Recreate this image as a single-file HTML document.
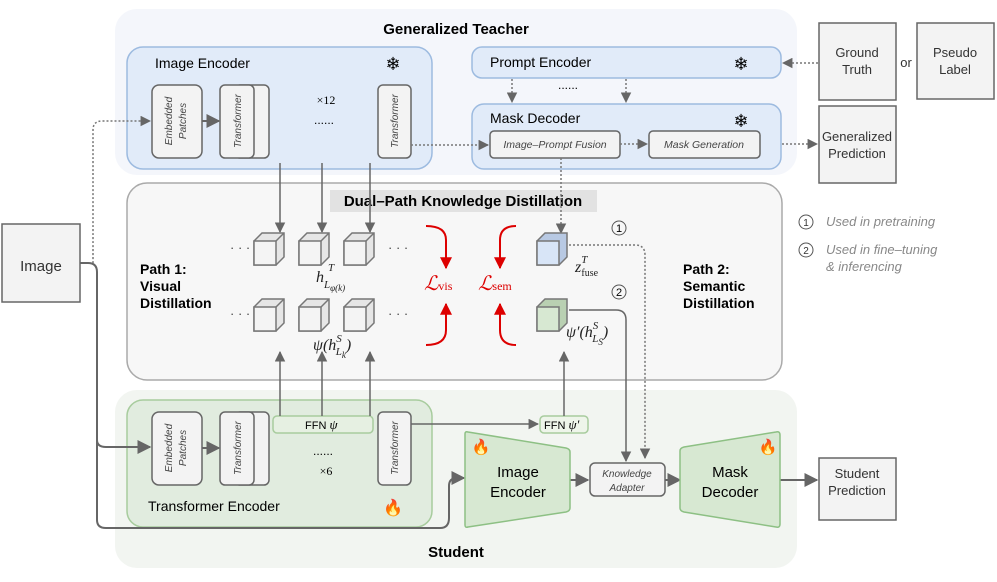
<!DOCTYPE html>
<html><head><meta charset="utf-8"><style>
body{margin:0;background:#fff}
svg{display:block;font-family:"Liberation Sans",sans-serif}
.it{font-style:italic}
</style></head><body>
<svg width="997" height="582" viewBox="0 0 997 582" xmlns="http://www.w3.org/2000/svg">
<defs>
<marker id="a" viewBox="0 0 10 10" refX="9" refY="5" markerWidth="7" markerHeight="7" orient="auto"><path d="M0,0L10,5L0,10z" fill="#666"/></marker>
<marker id="r" viewBox="0 0 10 10" refX="9" refY="5" markerWidth="6" markerHeight="6" orient="auto"><path d="M0,0L10,5L0,10z" fill="#d00"/></marker>
<g id="cube"><path d="M0,8 L8,0 L30,0 L30,24 L22,32 L0,32 Z" fill="#e6e6e6" stroke="#777" stroke-width="1.5"/><path d="M0,8 L22,8 L22,32 L0,32Z" fill="#f4f4f4" stroke="#777" stroke-width="1.5"/><path d="M22,8 L30,0" stroke="#777" stroke-width="1.5"/></g>
</defs>
<!-- backgrounds -->
<rect x="115" y="9" width="682" height="166" rx="22" fill="#f4f6fb"/>
<rect x="115" y="390" width="682" height="178" rx="22" fill="#f2f5f1"/>
<rect x="127" y="183" width="655" height="197" rx="20" fill="#f7f7f7" stroke="#aaa" stroke-width="1.5"/>
<rect x="330" y="190" width="267" height="22" fill="#e2e2e2"/>
<text x="463" y="206" font-size="15" font-weight="bold" text-anchor="middle">Dual–Path Knowledge Distillation</text>
<text x="456" y="34" font-size="15" font-weight="bold" text-anchor="middle">Generalized Teacher</text>
<text x="456" y="557" font-size="15" font-weight="bold" text-anchor="middle">Student</text>
<!-- teacher image encoder -->
<rect x="127" y="47" width="305" height="122" rx="16" fill="#e1ebf9" stroke="#9dbbe0" stroke-width="1.5"/>
<text x="155" y="68" font-size="14">Image Encoder</text>
<text x="393" y="70" font-size="18" text-anchor="middle">❄</text>
<rect x="152" y="85" width="50" height="73" rx="7" fill="#f3f3f3" stroke="#666" stroke-width="1.5"/>
<text transform="translate(172,121) rotate(-90)" font-size="10" class="it" text-anchor="middle" fill="#444">Embedded</text>
<text transform="translate(186,121) rotate(-90)" font-size="10" class="it" text-anchor="middle" fill="#444">Patches</text>
<rect x="235" y="85" width="34" height="73" rx="5" fill="#f3f3f3" stroke="#666" stroke-width="1.5"/>
<rect x="220" y="85" width="34" height="73" rx="5" fill="#f3f3f3" stroke="#666" stroke-width="1.5"/>
<text transform="translate(241,121) rotate(-90)" font-size="10" class="it" text-anchor="middle" fill="#444">Transformer</text>
<rect x="378" y="85" width="33" height="73" rx="5" fill="#f3f3f3" stroke="#666" stroke-width="1.5"/>
<text transform="translate(398,121) rotate(-90)" font-size="10" class="it" text-anchor="middle" fill="#444">Transformer</text>
<line x1="202" y1="121" x2="219" y2="121" stroke="#666" stroke-width="2" marker-end="url(#a)"/>
<text x="326" y="104" font-size="12" text-anchor="middle" font-family="Liberation Serif">×12</text>
<text x="324" y="124" font-size="12" text-anchor="middle">......</text>
<!-- prompt/mask -->
<rect x="472" y="47" width="309" height="31" rx="10" fill="#e1ebf9" stroke="#9dbbe0" stroke-width="1.5"/>
<text x="490" y="67" font-size="14">Prompt Encoder</text>
<text x="741" y="70" font-size="18" text-anchor="middle">❄</text>
<rect x="472" y="104" width="309" height="65" rx="12" fill="#e1ebf9" stroke="#9dbbe0" stroke-width="1.5"/>
<text x="490" y="123" font-size="14">Mask Decoder</text>
<text x="741" y="127" font-size="18" text-anchor="middle">❄</text>
<rect x="490" y="131" width="130" height="27" rx="4" fill="#f3f3f3" stroke="#666" stroke-width="1.5"/>
<text x="555" y="148" font-size="10.5" class="it" text-anchor="middle" fill="#444">Image–Prompt Fusion</text>
<rect x="649" y="131" width="111" height="27" rx="4" fill="#f3f3f3" stroke="#666" stroke-width="1.5"/>
<text x="704" y="148" font-size="10.5" class="it" text-anchor="middle" fill="#444">Mask Generation</text>
<g stroke="#777" stroke-width="1.5" stroke-dasharray="2,2" fill="none">
<line x1="512" y1="79" x2="512" y2="102" marker-end="url(#a)"/>
<line x1="626" y1="79" x2="626" y2="102" marker-end="url(#a)"/>
<line x1="620" y1="144" x2="647" y2="144" marker-end="url(#a)"/>
<line x1="782" y1="144" x2="817" y2="144" marker-end="url(#a)"/>
<line x1="818" y1="63" x2="783" y2="63" marker-end="url(#a)"/>
<line x1="411" y1="145" x2="488" y2="145" marker-end="url(#a)"/>
<path d="M93,263 Q93,260 93,130 Q93,121 102,121 L150,121" marker-end="url(#a)"/>
<line x1="561" y1="158" x2="561" y2="233" marker-end="url(#a)"/>
<path d="M569,245 L635,245 Q645,245 645,255 L645,458" marker-end="url(#a)"/>
</g>
<text x="568" y="89" font-size="12" text-anchor="middle">......</text>
<!-- right boxes -->
<g fill="#f3f3f3" stroke="#666" stroke-width="1.5">
<rect x="819" y="23" width="77" height="77"/><rect x="917" y="23" width="77" height="76"/>
<rect x="819" y="106" width="77" height="77"/><rect x="819" y="458" width="77" height="62"/>
<rect x="2" y="224" width="78" height="78"/></g>
<g font-size="13" text-anchor="middle" fill="#333">
<text x="857" y="57">Ground</text><text x="857" y="74">Truth</text>
<text x="906" y="67">or</text>
<text x="955" y="57">Pseudo</text><text x="955" y="74">Label</text>
<text x="857" y="141">Generalized</text><text x="857" y="158">Prediction</text>
<text x="857" y="478">Student</text><text x="857" y="495">Prediction</text>
<text x="41" y="271" font-size="15">Image</text></g>
<!-- legend -->
<g font-size="13" fill="#888" class="it"><circle cx="806" cy="222" r="7" fill="none" stroke="#555"/><text x="806" y="226" font-size="10" text-anchor="middle" fill="#333" font-style="normal">1</text>
<text x="826" y="226">Used in pretraining</text>
<circle cx="806" cy="250" r="7" fill="none" stroke="#555"/><text x="806" y="254" font-size="10" text-anchor="middle" fill="#333" font-style="normal">2</text>
<text x="826" y="254">Used in fine–tuning</text><text x="826" y="271">&amp; inferencing</text></g>
<!-- distillation content -->
<g font-size="14" font-weight="bold"><text x="140" y="274">Path 1:</text><text x="140" y="291">Visual</text><text x="140" y="308">Distillation</text>
<text x="683" y="274">Path 2:</text><text x="683" y="291">Semantic</text><text x="683" y="308">Distillation</text></g>
<g stroke="#666" stroke-width="1.5" fill="none">
<line x1="280" y1="163" x2="280" y2="232" marker-end="url(#a)"/>
<line x1="322" y1="163" x2="322" y2="232" marker-end="url(#a)"/>
<line x1="370" y1="163" x2="370" y2="232" marker-end="url(#a)"/>
</g>
<use href="#cube" x="254" y="233"/><use href="#cube" x="299" y="233"/><use href="#cube" x="344" y="233"/>
<use href="#cube" x="254" y="299"/><use href="#cube" x="299" y="299"/><use href="#cube" x="344" y="299"/>
<g font-size="13" fill="#444"><text x="230" y="252">· · ·</text><text x="388" y="252">· · ·</text><text x="230" y="318">· · ·</text><text x="388" y="318">· · ·</text></g>
<g transform="translate(537,233)"><path d="M0,8 L8,0 L30,0 L30,24 L22,32 L0,32 Z" fill="#b8c9e3" stroke="#777" stroke-width="1.5"/><path d="M0,8 L22,8 L22,32 L0,32Z" fill="#d8e5f7" stroke="#777" stroke-width="1.5"/></g>
<g transform="translate(537,299)"><path d="M0,8 L8,0 L30,0 L30,24 L22,32 L0,32 Z" fill="#b9d0b2" stroke="#777" stroke-width="1.5"/><path d="M0,8 L22,8 L22,32 L0,32Z" fill="#d7e8d2" stroke="#777" stroke-width="1.5"/></g>
<g font-family="Liberation Serif" font-style="italic" font-size="16" fill="#222">
<text x="316" y="282">h<tspan font-size="11" dy="6">L</tspan><tspan font-size="9" dy="3">φ(k)</tspan></text><text x="328" y="271" font-size="11">T</text>
<text x="313" y="350">ψ(h<tspan font-size="11" dy="-8">S</tspan><tspan font-size="11" dx="-6" dy="13">L</tspan><tspan font-size="9" dy="3">k</tspan><tspan font-size="16" dy="-8">)</tspan></text>
<text x="575" y="272">z<tspan font-size="11" dy="-9">T</tspan><tspan font-size="10" dx="-6" dy="13" font-style="normal">fuse</tspan></text>
<text x="566" y="337">ψ′(h<tspan font-size="11" dy="-8">S</tspan><tspan font-size="11" dx="-6" dy="13">L</tspan><tspan font-size="9" dy="3">S</tspan><tspan font-size="16" dy="-8">)</tspan></text>
</g>
<g font-size="11" text-anchor="middle"><circle cx="619" cy="228" r="7" fill="none" stroke="#555"/><text x="619" y="232">1</text><circle cx="619" cy="292" r="7" fill="none" stroke="#555"/><text x="619" y="296">2</text></g>
<g font-family="Liberation Serif" font-style="italic" font-size="20" fill="#d00"><text x="424" y="290">ℒ<tspan font-size="12" font-style="normal">vis</tspan></text><text x="478" y="290">ℒ<tspan font-size="12" font-style="normal">sem</tspan></text></g>
<g stroke="#d00" stroke-width="2" fill="none">
<path d="M426,226 Q446,226 446,240 L446,268" marker-end="url(#r)"/>
<path d="M426,345 Q446,345 446,330 L446,304" marker-end="url(#r)"/>
<path d="M516,226 Q500,226 500,240 L500,268" marker-end="url(#r)"/>
<path d="M516,345 Q500,345 500,330 L500,304" marker-end="url(#r)"/>
</g>
<!-- student -->
<rect x="127" y="400" width="305" height="127" rx="16" fill="#e1ecdf" stroke="#a8cc9e" stroke-width="1.5"/>
<rect x="152" y="412" width="50" height="73" rx="7" fill="#f3f3f3" stroke="#666" stroke-width="1.5"/>
<text transform="translate(172,448) rotate(-90)" font-size="10" class="it" text-anchor="middle" fill="#444">Embedded</text>
<text transform="translate(186,448) rotate(-90)" font-size="10" class="it" text-anchor="middle" fill="#444">Patches</text>
<rect x="235" y="412" width="34" height="73" rx="5" fill="#f3f3f3" stroke="#666" stroke-width="1.5"/>
<rect x="220" y="412" width="34" height="73" rx="5" fill="#f3f3f3" stroke="#666" stroke-width="1.5"/>
<text transform="translate(241,448) rotate(-90)" font-size="10" class="it" text-anchor="middle" fill="#444">Transformer</text>
<rect x="378" y="412" width="33" height="73" rx="5" fill="#f3f3f3" stroke="#666" stroke-width="1.5"/>
<text transform="translate(398,448) rotate(-90)" font-size="10" class="it" text-anchor="middle" fill="#444">Transformer</text>
<line x1="202" y1="448" x2="219" y2="448" stroke="#666" stroke-width="2" marker-end="url(#a)"/>
<rect x="273" y="416" width="100" height="17" rx="4" fill="#e6f0e2" stroke="#a8cc9e" stroke-width="1.5"/>
<text x="305" y="429" font-size="11">FFN <tspan font-family="Liberation Serif" font-style="italic" font-size="13">ψ</tspan></text>
<text x="323" y="455" font-size="12" text-anchor="middle">......</text>
<text x="326" y="475" font-size="12" text-anchor="middle" font-family="Liberation Serif">×6</text>
<text x="148" y="511" font-size="14">Transformer Encoder</text>
<text x="393" y="513" font-size="16" text-anchor="middle">🔥</text>
<rect x="540" y="416" width="48" height="17" rx="4" fill="#eef5ea" stroke="#a8cc9e" stroke-width="1.5"/>
<text x="544" y="429" font-size="11">FFN <tspan font-family="Liberation Serif" font-style="italic" font-size="13">ψ′</tspan></text>
<g stroke="#666" stroke-width="1.5" fill="none">
<path d="M280,416 L280,352" marker-end="url(#a)"/>
<path d="M322,416 L322,352" marker-end="url(#a)"/>
<path d="M370,416 L370,352" marker-end="url(#a)"/>
<path d="M564,416 L564,352" marker-end="url(#a)"/>
<line x1="411" y1="424" x2="538" y2="424" marker-end="url(#a)"/>
<path d="M569,310 L616,310 Q626,310 626,320 L626,461" marker-end="url(#a)"/>
<path d="M80,263 L88,263 Q97,263 97,272 L97,440 Q97,447 106,447 L150,447" stroke-width="2" marker-end="url(#a)"/>
<path d="M97,440 L97,520 Q97,528 106,528 L440,528 Q449,528 449,518 L449,486 Q449,478 457,478 L464,478" stroke-width="2" marker-end="url(#a)"/>
<line x1="570" y1="480" x2="588" y2="480" stroke-width="2" marker-end="url(#a)"/>
<line x1="665" y1="480" x2="680" y2="480" stroke-width="2" marker-end="url(#a)"/>
<line x1="780" y1="480" x2="817" y2="480" stroke-width="2" marker-end="url(#a)"/>
</g>
<path d="M465,434 Q465,431 468,432 L566,448 Q570,449 570,452 L570,508 Q570,511 566,512 L468,527 Q465,528 465,525Z" fill="#d7e8d2" stroke="#8dc084" stroke-width="1.5"/>
<text x="518" y="477" font-size="15" text-anchor="middle">Image</text><text x="518" y="497" font-size="15" text-anchor="middle">Encoder</text>
<text x="481" y="452" font-size="15" text-anchor="middle">🔥</text>
<rect x="590" y="463" width="75" height="33" rx="5" fill="#f3f3f3" stroke="#666" stroke-width="1.5"/>
<text x="627" y="477" font-size="10" class="it" text-anchor="middle" fill="#444">Knowledge</text>
<text x="627" y="491" font-size="10" class="it" text-anchor="middle" fill="#444">Adapter</text>
<path d="M680,451 Q680,448 684,447 L776,432 Q780,431 780,435 L780,524 Q780,528 776,527 L684,512 Q680,511 680,508Z" fill="#d7e8d2" stroke="#8dc084" stroke-width="1.5"/>
<text x="730" y="477" font-size="15" text-anchor="middle">Mask</text><text x="730" y="497" font-size="15" text-anchor="middle">Decoder</text>
<text x="768" y="452" font-size="15" text-anchor="middle">🔥</text>
</svg>
</body></html>
